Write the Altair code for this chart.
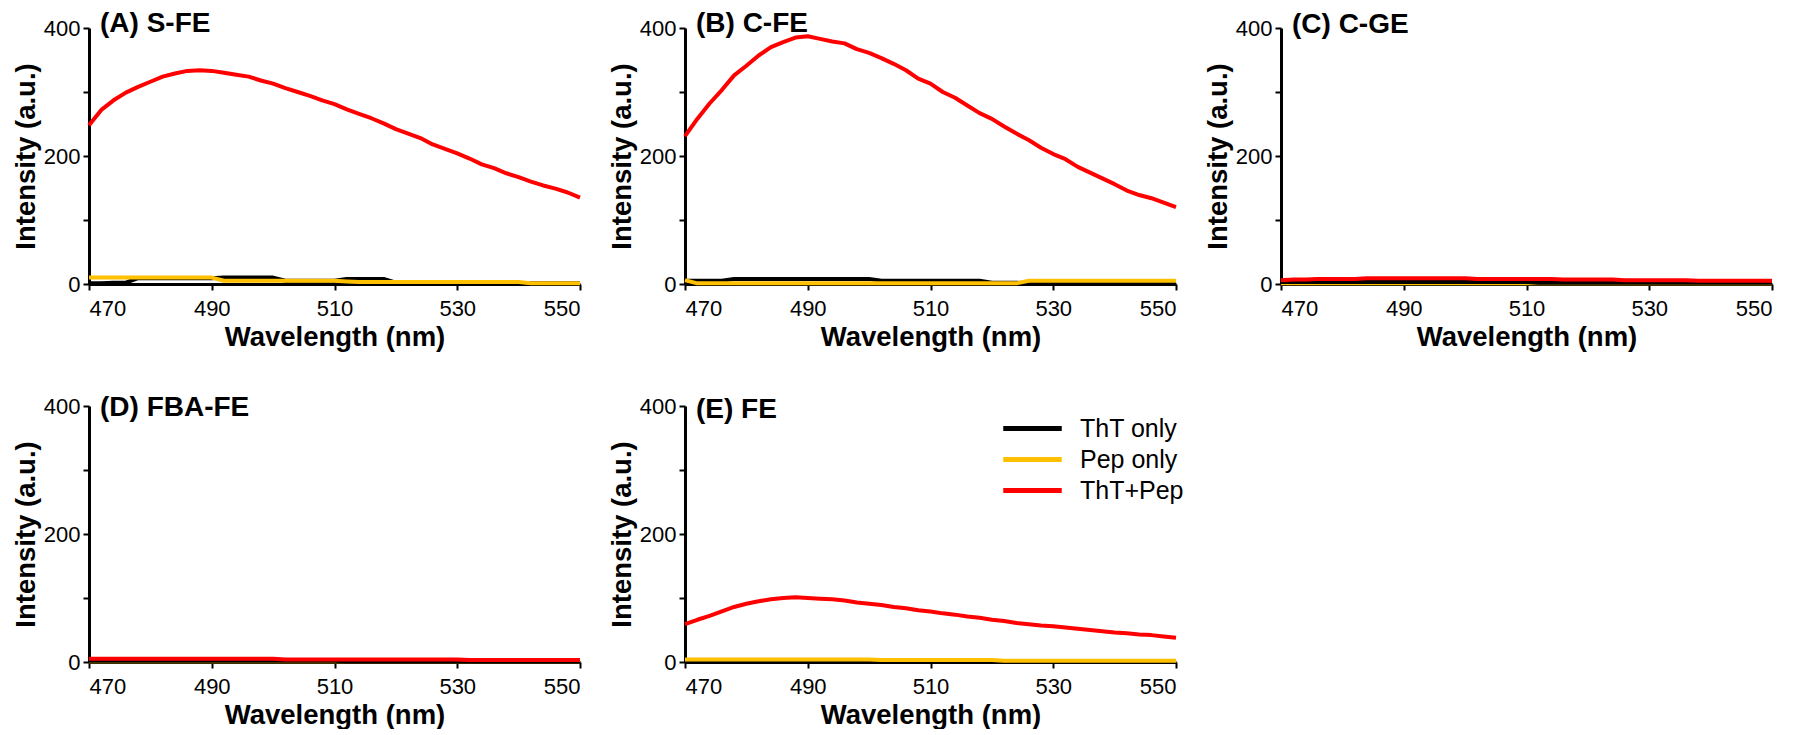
import altair as alt
import pandas as pd

# ---------------- data ----------------
wavelength = list(range(470, 551, 2))  # nm
series_names = ["ThT only", "Pep only", "ThT+Pep"]
series_colors = ["#000000", "#FFC000", "#FF0000"]

# (A) S-FE
a_tht = [1, 1, 2, 2, 9, 9, 9, 9, 9, 9, 9, 10, 10, 10, 10, 10, 5, 5, 5, 5, 5,
         8, 8, 8, 8, 2, 2, 2, 2, 2, 2, 2, 2, 1, 1, 1, 1, 1, 1, 1, 1]
a_pep = [10, 10, 10, 10, 10, 10, 10, 10, 10, 10, 10, 5, 5, 5, 5, 5, 5, 5, 5, 5, 5,
         4, 3, 3, 3, 3, 3, 3, 3, 3, 3, 3, 3, 3, 3, 3, 1, 1, 1, 1, 1]
a_mix = [248, 272, 287, 299, 308, 316, 324, 329, 333, 334, 333, 330, 327, 324, 318,
         313, 306, 300, 294, 287, 281, 273, 266, 259, 251, 242, 235, 228, 218, 211,
         204, 196, 187, 181, 173, 167, 160, 154, 149, 143, 135]

# (B) C-FE
b_tht = [5, 5, 5, 5, 8, 8, 8, 8, 8, 8, 8, 8, 8, 8, 8, 8, 5, 5, 5, 5, 5,
         5, 5, 5, 5, 2, 2, 2, 1, 1, 1, 1, 1, 1, 1, 1, 1, 1, 1, 1, 1]
b_pep = [6, 1, 1, 1, 1, 1, 1, 1, 1, 1, 1, 1, 1, 1, 1, 1, 1, 1, 1, 1, 1,
         1, 1, 1, 1, 1, 1, 1, 5, 5, 5, 5, 5, 5, 5, 5, 5, 5, 5, 5, 5]
b_mix = [231, 258, 282, 303, 326, 341, 357, 370, 378, 385, 387, 383, 379, 376, 367,
         361, 353, 344, 334, 321, 313, 300, 291, 279, 267, 258, 246, 235, 225, 213,
         203, 195, 183, 174, 165, 156, 146, 139, 134, 127, 120]

# (C) C-GE
c_tht = [3, 3, 3, 3, 3, 3, 3, 3, 3, 3, 3, 3, 3, 3, 3, 3, 3, 3, 3, 3, 3,
         2, 2, 2, 2, 2, 2, 2, 2, 2, 2, 2, 2, 2, 2, 2, 2, 2, 2, 2, 2]
c_pep = [1, 1, 1, 1, 1, 1, 1, 1, 1, 1, 1, 1, 1, 1, 1, 1, 1, 1, 1, 1, 1,
         1, 1, 1, 1, 1, 1, 1, 1, 1, 1, 1, 1, 1, 1, 1, 1, 1, 1, 1, 1]
c_mix = [6, 7, 7, 8, 8, 8, 8, 9, 9, 9, 9, 9, 9, 9, 9, 9, 8, 8, 8, 8, 8,
         8, 8, 7, 7, 7, 7, 7, 6, 6, 6, 6, 6, 6, 5, 5, 5, 5, 5, 5, 5]

# (D) FBA-FE
d_tht = [2, 2, 2, 2, 2, 2, 2, 2, 2, 2, 2, 2, 2, 2, 2, 2, 2, 2, 2, 2, 2,
         1, 1, 1, 1, 1, 1, 1, 1, 1, 1, 1, 1, 1, 1, 1, 1, 1, 1, 1, 1]
d_pep = [1, 1, 1, 1, 1, 1, 1, 1, 1, 1, 1, 1, 1, 1, 1, 1, 1, 1, 1, 1, 1,
         1, 1, 1, 1, 1, 1, 1, 1, 1, 1, 1, 1, 1, 1, 1, 1, 1, 1, 1, 1]
d_mix = [5, 5, 5, 5, 5, 5, 5, 5, 5, 5, 5, 5, 5, 5, 5, 5, 4, 4, 4, 4, 4,
         4, 4, 4, 4, 4, 4, 4, 4, 4, 4, 3, 3, 3, 3, 3, 3, 3, 3, 3, 3]

# (E) FE
e_tht = [1, 1, 1, 1, 1, 1, 1, 1, 1, 1, 1, 1, 1, 1, 1, 1, 1, 1, 1, 1, 1,
         1, 1, 1, 1, 1, 1, 1, 1, 1, 1, 1, 1, 1, 1, 1, 1, 1, 1, 1, 1]
e_pep = [4, 4, 4, 4, 4, 4, 4, 4, 4, 4, 4, 4, 4, 4, 4, 4, 3, 3, 3, 3, 3,
         3, 3, 3, 3, 3, 2, 2, 2, 2, 2, 2, 2, 2, 2, 2, 2, 2, 2, 2, 2]
e_mix = [59, 66, 72, 79, 86, 91, 95, 98, 100, 101, 100, 99, 98, 96, 93, 91, 89, 86,
         84, 81, 79, 76, 74, 71, 69, 66, 64, 61, 59, 57, 56, 54, 52, 50, 48, 46, 45,
         43, 42, 40, 38]

panel_titles = ["(A) S-FE", "(B) C-FE", "(C) C-GE", "(D) FBA-FE", "(E) FE"]

# ---------------- chart ----------------
PW, PH = 491, 256
FONT = "Liberation Sans"


def panel(title, tht, pep, mix, draw_order, title_y, legend=False):
    n = len(wavelength)
    df = pd.DataFrame({
        "wavelength": wavelength * 3,
        "intensity": tht + pep + mix,
        "series": [series_names[0]] * n + [series_names[1]] * n + [series_names[2]] * n,
    })
    if legend:
        leg = alt.Legend(orient="none", legendX=330, legendY=5, title=None,
                         symbolType="M-1.95,0H1.95", symbolStrokeWidth=5, symbolSize=900,
                         labelFont=FONT, labelFontSize=25, labelColor="black",
                         rowPadding=0, labelOffset=30, padding=0)
    else:
        leg = None
    color = alt.Color("series:N",
                      scale=alt.Scale(domain=series_names, range=series_colors),
                      legend=leg)
    x = alt.X("wavelength:Q",
              scale=alt.Scale(domain=[470, 550], nice=False),
              axis=alt.Axis(values=[470, 490, 510, 530, 550], format="d",
                            title="Wavelength (nm)", labelPadding=8, titlePadding=4))
    y = alt.Y("intensity:Q",
              scale=alt.Scale(domain=[0, 400], nice=False),
              axis=alt.Axis(values=[0, 100, 200, 300, 400],
                            labelExpr="datum.value % 200 == 0 ? datum.label : ''",
                            title="Intensity (a.u.)", labelPadding=3, titlePadding=3))
    layers = []
    for s in draw_order:
        layers.append(
            alt.Chart(df).transform_filter(alt.datum.series == s)
            .mark_line(strokeWidth=4, strokeJoin="round", strokeCap="butt")
            .encode(x=x, y=y, color=color)
        )
    label = alt.Chart(pd.DataFrame({"t": [title]})).mark_text(
        align="left", baseline="alphabetic", font=FONT, fontSize=28,
        fontWeight="bold", color="black"
    ).encode(text="t:N", x=alt.value(11), y=alt.value(title_y))
    return alt.layer(*layers, label).properties(width=PW, height=PH)


order_top = ["ThT only", "Pep only", "ThT+Pep"]
order_hidden = ["Pep only", "ThT only", "ThT+Pep"]

pA = panel(panel_titles[0], a_tht, a_pep, a_mix, order_top, 4)
pB = panel(panel_titles[1], b_tht, b_pep, b_mix, order_top, 4)
pC = panel(panel_titles[2], c_tht, c_pep, c_mix, order_hidden, 5)
pD = panel(panel_titles[3], d_tht, d_pep, d_mix, order_hidden, 10)
pE = panel(panel_titles[4], e_tht, e_pep, e_mix, order_top, 12, legend=True)

chart = alt.concat(
    pA, pB, pC, pD, pE, columns=3,
    spacing={"row": 122, "column": 105}, bounds="flush"
).resolve_scale(color="independent").resolve_legend(color="independent").properties(
    padding={"left": 4, "top": 2, "right": 2, "bottom": 0}
).configure_view(strokeWidth=0).configure_axis(
    domainColor="black", domainWidth=3, tickColor="black", tickWidth=2, tickSize=6,
    labelFont=FONT, labelFontSize=22, labelColor="black",
    titleFont=FONT, titleFontSize=27.5, titleFontWeight="bold", titleColor="black",
    grid=False
)

chart.save("out.html", embed_options={"renderer": "svg", "actions": False})
